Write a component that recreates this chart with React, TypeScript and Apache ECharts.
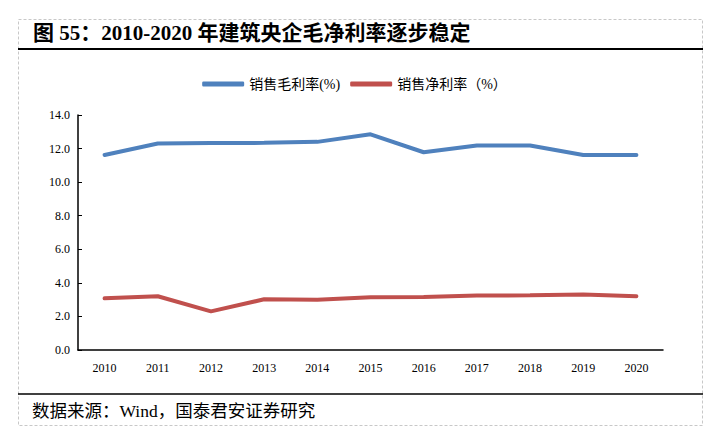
import React, { useEffect, useRef } from "react";
import * as echarts from "echarts";

const years = ["2010", "2011", "2012", "2013", "2014", "2015", "2016", "2017", "2018", "2019", "2020"];
const grossMargin = [11.62, 12.3, 12.33, 12.34, 12.4, 12.85, 11.78, 12.18, 12.18, 11.62, 11.62];
const netMargin = [3.08, 3.2, 2.3, 3.02, 3.0, 3.14, 3.16, 3.24, 3.26, 3.3, 3.2];
const seriesNames = ["销售毛利率(%)", "销售净利率（%）"];
const titleText = "图 55：2010-2020 年建筑央企毛净利率逐步稳定";
const sourceText = "数据来源：Wind，国泰君安证券研究";

const FONT = '"Liberation Serif", "Noto Sans CJK SC", serif';

export default function App() {
  const ref = useRef<HTMLDivElement>(null);
  useEffect(() => {
    if (!ref.current) return;
    const chart = echarts.init(ref.current, null, { renderer: "svg" });
    chart.setOption({
      animation: false,
      backgroundColor: "#ffffff",
      textStyle: { fontFamily: FONT },
      graphic: [
        {
          type: "rect",
          shape: { x: 18.5, y: 19.5, width: 684, height: 406 },
          style: { fill: "none", stroke: "#c8c8c8", lineWidth: 1, lineDash: [3, 2] },
        },
        {
          type: "line",
          shape: { x1: 18, y1: 49, x2: 703, y2: 49 },
          style: { stroke: "#000", lineWidth: 2 },
        },
        {
          type: "line",
          shape: { x1: 18, y1: 394, x2: 703, y2: 394 },
          style: { stroke: "#000", lineWidth: 1.5 },
        },
        {
          type: "text",
          left: 33,
          top: 22,
          style: { text: titleText, font: `bold 21px ${FONT}`, fill: "#000" },
        },
        {
          type: "text",
          left: 32,
          top: 402,
          style: { text: sourceText, font: `17.5px ${FONT}`, fill: "#000" },
        },
      ],
      legend: {
        top: 72,
        left: "center",
        itemWidth: 42,
        itemHeight: 5,
        itemGap: 10,
        icon: "roundRect",
        textStyle: { fontFamily: FONT, fontSize: 14, color: "#000" },
        data: seriesNames,
      },
      grid: { left: 78, right: 46, top: 115, bottom: 88, containLabel: false },
      xAxis: {
        type: "category",
        data: years,
        boundaryGap: true,
        axisLine: { lineStyle: { color: "#000", width: 1.5 } },
        axisTick: { inside: true, length: 4, lineStyle: { color: "#000" } },
        axisLabel: { color: "#000", fontSize: 12, fontFamily: FONT, margin: 12 },
      },
      yAxis: {
        type: "value",
        min: 0,
        max: 14,
        interval: 2,
        splitLine: { show: false },
        axisLine: { show: true, lineStyle: { color: "#000", width: 1.5 } },
        axisTick: { show: true, inside: true, length: 4, lineStyle: { color: "#000" } },
        axisLabel: {
          color: "#000",
          fontSize: 12,
          fontFamily: FONT,
          margin: 8,
          formatter: (v: number) => v.toFixed(1),
        },
      },
      series: [
        {
          name: seriesNames[0],
          type: "line",
          data: grossMargin,
          symbol: "none",
          lineStyle: { color: "#4F81BD", width: 4, cap: "round" },
          itemStyle: { color: "#4F81BD" },
        },
        {
          name: seriesNames[1],
          type: "line",
          data: netMargin,
          symbol: "none",
          lineStyle: { color: "#C0504D", width: 4, cap: "round" },
          itemStyle: { color: "#C0504D" },
        },
      ],
    });
    return () => chart.dispose();
  }, []);
  return (
    <div
      ref={ref}
      style={{ position: "fixed", left: 0, top: 0, width: 709, height: 438 }}
    />
  );
}
